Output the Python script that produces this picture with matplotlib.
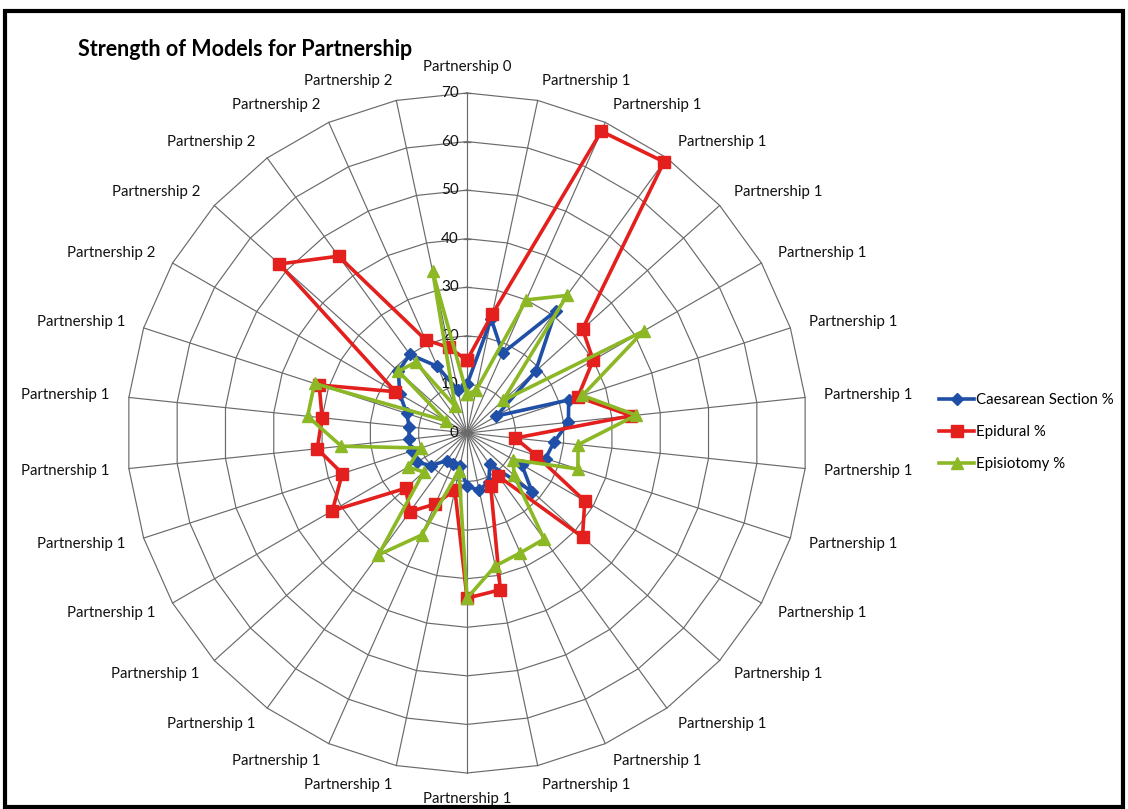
import matplotlib.pyplot as plt
import matplotlib.patches as mpatches
import numpy as np

plt.rcParams['font.family'] = ['Lato', 'DejaVu Sans']

# Category labels, clockwise from the top
categories = ['Partnership 0'] + ['Partnership 1'] * 24 + ['Partnership 2'] * 5

# Series values (%)
caesarean = [10, 24, 18, 31, 19, 7, 22, 21, 18, 17, 13, 18, 8, 11, 12,
             11, 7, 7, 7, 10, 12, 12, 12, 12, 13, 16, 19, 20, 15, 9]
epidural = [15, 25, 68, 69, 32, 30, 24, 34, 10, 15, 28, 32, 11, 12, 33,
            34, 12, 16, 20, 17, 32, 27, 31, 30, 32, 17, 52, 45, 21, 18]
episiotomy = [8, 9, 30, 35, 10, 42, 25, 35, 23, 24, 11, 13, 27, 27, 28,
              34, 8, 23, 31, 12, 14, 10, 26, 33, 33, 5, 19, 18, 6, 34]

r_ticks = [0, 10, 20, 30, 40, 50, 60, 70]

blue = '#1f4fa6'
red = '#e3201d'
green = '#8cb826'
grid_col = '#6a6a6a'

n = len(categories)
theta = np.arange(n) * 2 * np.pi / n
theta_closed = np.append(theta, theta[0])

fig = plt.figure(figsize=(11.28, 8.09), dpi=100)
ax = fig.add_axes([127 / 1128, 36 / 809, 680 / 1128, 680 / 809], projection='polar')
ax.set_theta_zero_location('N')
ax.set_theta_direction(-1)
ax.set_ylim(0, 70)
ax.grid(False)
ax.spines['polar'].set_visible(False)
ax.set_xticks([])
ax.set_yticks([])
ax.patch.set_alpha(0)

# polygon gridlines and spokes
for v in r_ticks[1:]:
    ax.plot(theta_closed, [v] * (n + 1), color=grid_col, lw=0.85, clip_on=False, zorder=1)
for t in theta:
    ax.plot([t, t], [0, 70], color=grid_col, lw=0.85, clip_on=False, zorder=1)

# radial axis ticks and labels
ax.plot([0] * len(r_ticks), r_ticks, ls='none', marker='_', ms=6, mew=0.9,
        color=grid_col, clip_on=False, zorder=2)
for v in r_ticks:
    ax.annotate(str(v), (0, v), xytext=(-6, 0), textcoords='offset points',
                ha='right', va='center', fontsize=11, color='#111111')

# category labels
for t, lab in zip(theta, categories):
    s = np.sin(t)
    c = np.cos(t)
    if abs(s) < 0.05:
        ha = 'center'
        va = 'bottom' if c > 0 else 'top'
    else:
        ha = 'left' if s > 0 else 'right'
        va = 'center'
    ax.text(t, 74, lab, ha=ha, va=va, fontsize=10.8, color='#111111', clip_on=False)

# series
l1, = ax.plot(theta_closed, caesarean + caesarean[:1], color=blue, lw=2.6,
              marker='D', ms=6, clip_on=False, zorder=3)
l2, = ax.plot(theta_closed, epidural + epidural[:1], color=red, lw=2.6,
              marker='s', ms=8.5, clip_on=False, zorder=4)
l3, = ax.plot(theta_closed, episiotomy + episiotomy[:1], color=green, lw=2.6,
              marker='^', ms=8.5, clip_on=False, zorder=5)

fig.legend([l1, l2, l3], ['Caesarean Section %', 'Epidural %', 'Episiotomy %'],
           loc='upper left', bbox_to_anchor=(939 / 1128, 1 - 393 / 809),
           frameon=False, fontsize=10.8, handlelength=2.35, handletextpad=0.15,
           labelspacing=1.2, borderpad=0, borderaxespad=0)

fig.text(78 / 1128, 1 - 50 / 809, 'Strength of Models for Partnership',
         fontsize=15.5, fontweight='bold', ha='left', va='center')

# outer frame
fig.patches.append(mpatches.Rectangle((0.004, 0.003), 0.992, 0.984, transform=fig.transFigure,
                                      fill=False, lw=3, edgecolor='black'))

fig.savefig('out.png', dpi=100)
